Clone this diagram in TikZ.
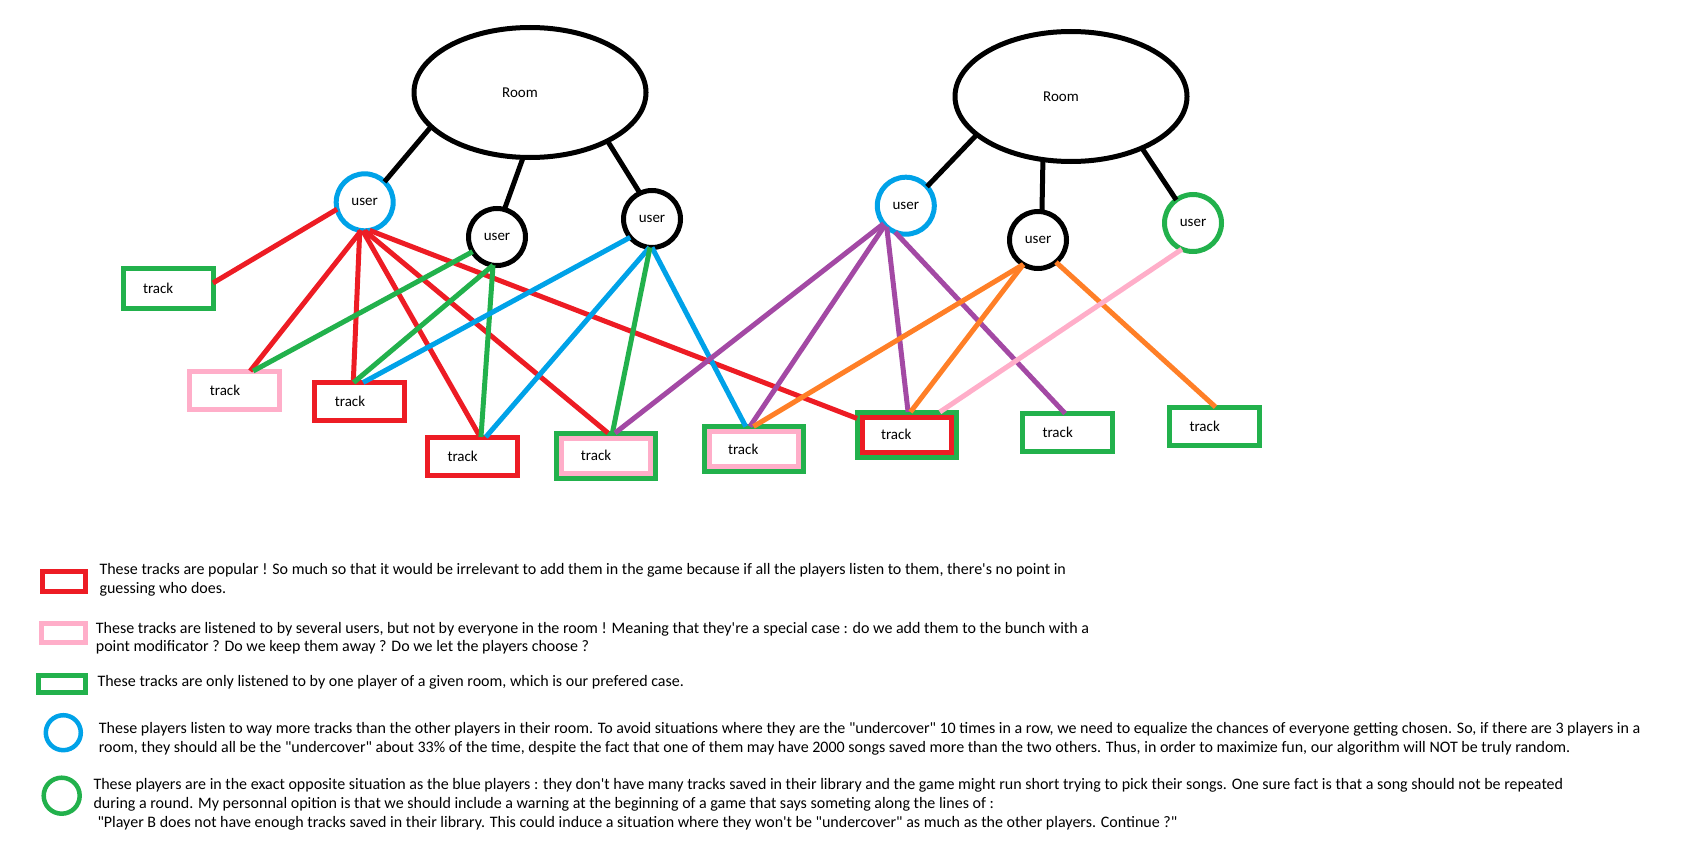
\documentclass[tikz,border=0pt]{standalone}
\usepackage{fontspec}
\newfontfamily\paintfont{Carlito}
\usetikzlibrary{shapes.geometric}
\definecolor{trackred}{HTML}{ED1C24}
\definecolor{trackpink}{HTML}{FFAEC9}
\definecolor{trackgreen}{HTML}{22B14C}
\definecolor{userblue}{HTML}{00A2E8}
\definecolor{linkpurple}{HTML}{A349A4}
\definecolor{linkorange}{HTML}{FF7F27}

\begin{document}
\begin{tikzpicture}[x=1pt, y=-1pt,
  every node/.style={font=\paintfont\fontsize{15pt}{18.7pt}\selectfont},
  room/.style={ellipse, draw, line width=5pt, minimum width=232pt,
    minimum height=130pt, inner sep=0pt, outer sep=0pt},
  user/.style={circle, draw, line width=5pt, minimum size=57pt,
    inner sep=0pt, outer sep=0pt},
  track/.style={rectangle, draw=#1, line width=5pt, minimum height=38pt,
    text width=50pt, inner xsep=20pt, inner ysep=0pt, outer sep=0pt, align=left},
  dtrack/.style={track=trackgreen, minimum height=45pt, text width=51pt, inner xsep=24pt,
    path picture={\draw[#1, line width=5pt]
      ([shift={(5pt,5pt)}]path picture bounding box.south west) rectangle
      ([shift={(-5pt,-5pt)}]path picture bounding box.north east);}},
  legkey/.style={draw=#1, line width=4.5pt, inner sep=0pt, outer sep=0pt},
  legend/.style={anchor=base west, inner sep=0pt, align=left,
    font=\paintfont\fontsize{16pt}{18.7pt}\selectfont},
  link/.style={line width=5pt}]
  \useasboundingbox (0,0) rectangle (1699,851);
  % Rooms (label sits a bit left of centre)
  \node[room] (roomA) at (530,92.5) {Room\hspace*{20pt}};
  \node[room] (roomB) at (1071,96.5) {Room\hspace*{20pt}};
  % Users
  \node[user, draw=userblue] (u1) at (364.7,202.3) {user};
  \node[user] (u2) at (497,237) {user};
  \node[user] (u3) at (652,219) {user};
  \node[user, draw=userblue] (u4) at (905.8,205.7) {user};
  \node[user] (u5) at (1038,240) {user};
  \node[user, draw=trackgreen] (u6) at (1193,223) {user};
  % Tracks
  \node[track=trackgreen, minimum height=40pt] (t1) at (168,288.5) {track};
  \node[track=trackpink] (t2) at (234.8,390) {track};
  \node[track=trackred] (t3) at (359.8,401.5) {track};
  \node[track=trackred] (t4) at (472.5,456) {track};
  \node[dtrack=trackpink] (t5) at (606.4,455.5) {track};
  \node[dtrack=trackpink] (t6) at (753.5,449) {track};
  \node[dtrack=trackred] (t7) at (906.5,434.5) {track};
  \node[track=trackgreen] (t8) at (1067.5,432.5) {track};
  \node[track=trackgreen] (t9) at (1214.5,426) {track};
  % Room to users
  \foreach \ra/\us/\ua in {199/u1/46, 264/u2/75, 328/u3/115}
    \draw[link] (roomA.\ra) -- (\us.\ua);
  \foreach \ra/\us/\ua in {202/u4/42, 246/u5/82, 324/u6/126}
    \draw[link] (roomB.\ra) -- (\us.\ua);
  % Users to tracks
  \foreach \ua/\tk/\ta in {194/t1/7, 263/t2/51, 260/t3/109, 266/t4/68, 270/t5/86, 280/t7/162}
    \draw[link, trackred] (u1.\ua) -- (\tk.\ta);
  \foreach \ua/\tk/\ta in {211/t2/46, 262/t3/108, 262/t4/66}
    \draw[link, trackgreen] (u2.\ua) -- (\tk.\ta);
  \foreach \ua/\tk/\ta in {220/t3/80, 265/t4/55, 270/t6/109}
    \draw[link, userblue] (u3.\ua) -- (\tk.\ta);
  \draw[link, trackgreen] (u3.266) -- (t5.75);
  \foreach \ua/\tk/\ta in {219/t5/69, 223/t6/99, 228/t7/86, 248/t8/97}
    \draw[link, linkpurple] (u4.\ua) -- (\tk.\ta);
  \foreach \ua/\tk/\ta in {239/t6/90, 239/t7/80, 309/t9/87}
    \draw[link, linkorange] (u5.\ua) -- (\tk.\ta);
  \draw[link, trackpink] (u6.247) -- (t7.34);
  % Legend (base = last line)
  \node[legkey=trackred, minimum width=43pt, minimum height=20pt] (kred) at (63.9,581.4) {};
  \node[legkey=trackpink, minimum width=44pt, minimum height=19pt] (kpink) at (63.4,632.9) {};
  \node[legkey=trackgreen, minimum width=47pt, minimum height=17pt] (kgreen) at (61.9,683.9) {};
  \node[legkey=userblue, circle, minimum size=35pt] (kblue) at (63.3,732.7) {};
  \node[legkey=trackgreen, circle, minimum size=36pt] (kfew) at (61.7,795.7) {};
  \node[legend] (lred) at (99.3,593.3) {These tracks are popular ! So much so that it would be irrelevant to add them in the game because if all the players listen to them, there's no point in\\
    guessing who does.};
  \node[legend] (lpink) at (95.7,651.7) {These tracks are listened to by several users, but not by everyone in the room ! Meaning that they're a special case : do we add them to the bunch with a\\
    point modificator ? Do we keep them away ? Do we let the players choose ?};
  \node[legend] (lgreen) at (97.3,686) {These tracks are only listened to by one player of a given room, which is our prefered case.};
  \node[legend] (lblue) at (98.7,752.3) {These players listen to way more tracks than the other players in their room. To avoid situations where they are the "undercover" 10 times in a row, we need to equalize the chances of everyone getting chosen. So, if there are 3 players in a\\
    room, they should all be the "undercover" about 33\% of the time, despite the fact that one of them may have 2000 songs saved more than the two others. Thus, in order to maximize fun, our algorithm will NOT be truly random.};
  \node[legend] (lfew) at (93.3,827.3) {These players are in the exact opposite situation as the blue players : they don't have many tracks saved in their library and the game might run short trying to pick their songs. One sure fact is that a song should not be repeated\\
    during a round. My personnal opition is that we should include a warning at the beginning of a game that says someting along the lines of :\\
    \hspace*{4pt}"Player B does not have enough tracks saved in their library. This could induce a situation where they won't be "undercover" as much as the other players. Continue ?"};
\end{tikzpicture}
\end{document}
